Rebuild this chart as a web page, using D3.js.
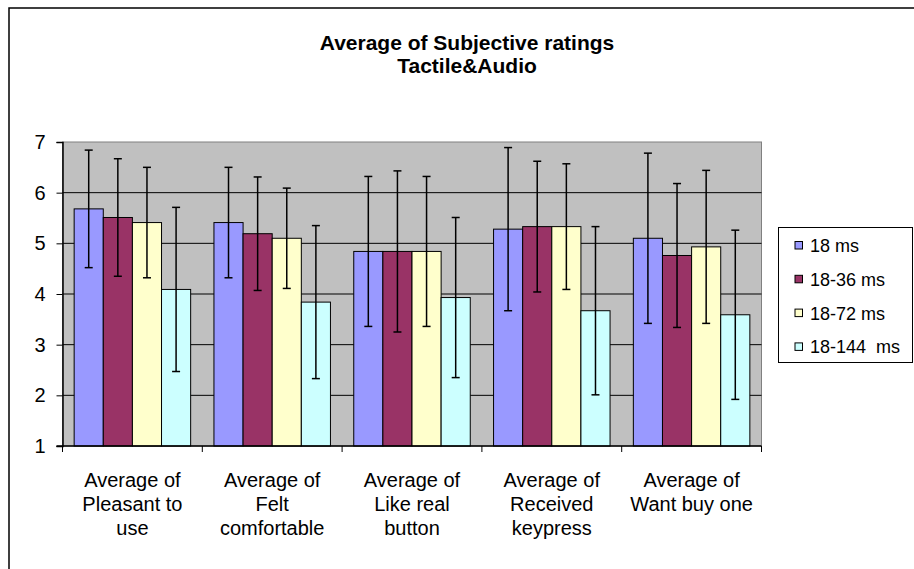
<!DOCTYPE html>
<html>
<head>
<meta charset="utf-8">
<script src="https://cdn.jsdelivr.net/npm/d3@7"></script>
<style>
  body { margin: 0; background: #fff; }
  text { font-family: Arial, "Liberation Sans", sans-serif; }
</style>
</head>
<body>
<script>
// data
var categories = [
  ["Average of", "Pleasant to", "use"],
  ["Average of", "Felt", "comfortable"],
  ["Average of", "Like real", "button"],
  ["Average of", "Received", "keypress"],
  ["Average of", "Want buy one"]
];
var seriesNames = ["18 ms", "18-36 ms", "18-72 ms", "18-144  ms"];
var colors = ["#9999ff", "#993366", "#ffffcc", "#ccffff"];

// means per series (one value per category)
var ms18    = [5.68, 5.41, 4.84, 5.28, 5.10];
var ms36    = [5.51, 5.19, 4.84, 5.33, 4.76];
var ms72    = [5.41, 5.10, 4.84, 5.33, 4.93];
var ms144   = [4.09, 3.84, 3.93, 3.67, 3.59];
// error bar half widths
var err18   = [1.16, 1.09, 1.48, 1.61, 1.68];
var err36   = [1.16, 1.12, 1.59, 1.29, 1.42];
var err72   = [1.09, 0.99, 1.48, 1.24, 1.51];
var err144  = [1.62, 1.51, 1.58, 1.66, 1.67];
var yTicks = [1, 2, 3, 4, 5, 6, 7];

var means = [ms18, ms36, ms72, ms144];
var errs = [err18, err36, err72, err144];

var W = 914, H = 569;
var plot = {left: 62.5, right: 761.5, top: 142, bottom: 446};

var svg = d3.select("body").append("svg")
  .attr("width", W)
  .attr("height", H);

// outer chart border (only top / left visible)
svg.append("rect")
  .attr("x", 9).attr("y", 8)
  .attr("width", 1000).attr("height", 1000)
  .attr("fill", "none")
  .attr("stroke", "#000")
  .attr("stroke-width", 1.5);

// title
svg.append("text")
  .attr("x", 467).attr("y", 50)
  .attr("text-anchor", "middle")
  .style("font-size", "21px").style("font-weight", "bold")
  .text("Average of Subjective ratings");
svg.append("text")
  .attr("x", 467).attr("y", 73)
  .attr("text-anchor", "middle")
  .style("font-size", "21px").style("font-weight", "bold")
  .text("Tactile&Audio");

var x0 = d3.scaleBand()
  .domain(d3.range(categories.length))
  .range([plot.left, plot.right])
  .paddingInner(0).paddingOuter(0);

var x1 = d3.scaleBand()
  .domain(d3.range(seriesNames.length))
  .range([0, x0.bandwidth()])
  .paddingOuter(0.4).paddingInner(0);

var y = d3.scaleLinear()
  .domain([1, 7])
  .range([plot.bottom, plot.top]);

// plot background
svg.append("rect")
  .attr("x", plot.left).attr("y", plot.top)
  .attr("width", plot.right - plot.left)
  .attr("height", plot.bottom - plot.top)
  .attr("fill", "#c0c0c0")
  .attr("stroke", "#808080")
  .attr("stroke-width", 1);

// gridlines
svg.append("g")
  .selectAll("line")
  .data(yTicks.slice(1, -1))
  .enter()
  .append("line")
  .attr("x1", plot.left).attr("x2", plot.right)
  .attr("y1", d => y(d)).attr("y2", d => y(d))
  .attr("stroke", "#000")
  .attr("stroke-width", 1);

// bars
var groups = svg.append("g")
  .selectAll("g")
  .data(categories)
  .enter()
  .append("g")
  .attr("transform", (d, i) => "translate(" + x0(i) + ",0)");

groups.each(function(c, ci) {
  var g = d3.select(this);
  means.forEach(function(s, si) {
    g.append("rect")
      .attr("x", x1(si))
      .attr("y", y(s[ci]))
      .attr("width", x1.bandwidth())
      .attr("height", y(1) - y(s[ci]))
      .attr("fill", colors[si])
      .attr("stroke", "#000")
      .attr("stroke-width", 1);
  });
  means.forEach(function(s, si) {
    var cx = x1(si) + x1.bandwidth() / 2;
    var hi = y(s[ci] + errs[si][ci]), lo = y(s[ci] - errs[si][ci]);
    g.append("line")
      .attr("x1", cx).attr("x2", cx)
      .attr("y1", hi).attr("y2", lo)
      .attr("stroke", "#000").attr("stroke-width", 1.5);
    [hi, lo].forEach(function(yy) {
      g.append("line")
        .attr("x1", cx - 4).attr("x2", cx + 4)
        .attr("y1", yy).attr("y2", yy)
        .attr("stroke", "#000").attr("stroke-width", 1.5);
    });
  });
});

// y axis
var yAxis = svg.append("g")
  .attr("transform", "translate(" + plot.left + ",0)")
  .call(d3.axisLeft(y).tickValues(yTicks).tickSize(6).tickPadding(11).tickFormat(d3.format("d")));
yAxis.select(".domain").attr("stroke", "#000").attr("stroke-width", 1.5);
yAxis.selectAll("text").style("font-size", "20px").attr("fill", "#000");

// x axis
var xAxis = svg.append("g")
  .attr("transform", "translate(0," + plot.bottom + ")");
xAxis.append("line")
  .attr("x1", plot.left - 6).attr("x2", plot.right)
  .attr("stroke", "#000").attr("stroke-width", 1.5);
xAxis.selectAll(".tk")
  .data(d3.range(categories.length + 1))
  .enter()
  .append("line")
  .attr("class", "tk")
  .attr("x1", d => d < categories.length ? x0(d) : plot.right)
  .attr("x2", d => d < categories.length ? x0(d) : plot.right)
  .attr("y1", 0).attr("y2", 6)
  .attr("stroke", "#000").attr("stroke-width", 1);

xAxis.selectAll(".lbl")
  .data(categories)
  .enter()
  .append("text")
  .attr("class", "lbl")
  .attr("text-anchor", "middle")
  .attr("x", (d, i) => x0(i) + x0.bandwidth() / 2)
  .attr("y", 41)
  .style("font-size", "20px")
  .selectAll("tspan")
  .data(d => d)
  .enter()
  .append("tspan")
  .attr("x", function() { return d3.select(this.parentNode).attr("x"); })
  .attr("dy", (d, i) => i === 0 ? 0 : 24)
  .text(d => d);

// legend
var legend = svg.append("g");
legend.append("rect")
  .attr("x", 778.5).attr("y", 227.5)
  .attr("width", 134).attr("height", 135)
  .attr("fill", "#fff")
  .attr("stroke", "#000").attr("stroke-width", 1);

var items = legend.selectAll(".item")
  .data(seriesNames)
  .enter()
  .append("g")
  .attr("class", "item")
  .attr("transform", (d, i) => "translate(795," + (245.5 + i * 33.8) + ")");
items.append("rect")
  .attr("x", 0).attr("y", -4)
  .attr("width", 7.5).attr("height", 7.5)
  .attr("fill", (d, i) => colors[i])
  .attr("stroke", "#000").attr("stroke-width", 1);
items.append("text")
  .attr("x", 15).attr("y", 6.5)
  .style("font-size", "18px")
  .style("white-space", "pre")
  .attr("xml:space", "preserve")
  .text(d => d);
</script>
</body>
</html>
